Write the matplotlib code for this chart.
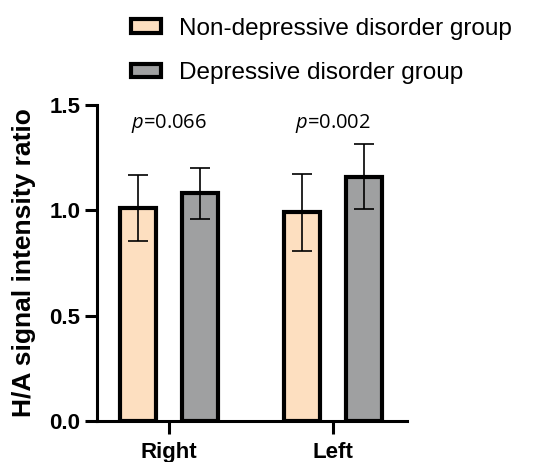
import matplotlib
matplotlib.use("Agg")
import matplotlib.pyplot as plt
from matplotlib.patches import Patch
import numpy as np

# Data
sides = ["Right", "Left"]
groups = ["Non-depressive disorder group", "Depressive disorder group"]
means_nondep = [1.01, 0.99]
means_dep = [1.08, 1.16]
sd_nondep = [0.157, 0.183]
sd_dep = [0.12, 0.155]
p_labels = ["0.066", "0.002"]
yticks = [0.0, 0.5, 1.0, 1.5]

colors = ["#FDDFC0", "#9FA0A1"]

plt.rcParams["font.family"] = ["Liberation Sans", "DejaVu Sans"]
plt.rcParams["mathtext.fontset"] = "custom"
plt.rcParams["mathtext.it"] = "Open Sans:italic"
plt.rcParams["mathtext.rm"] = "Open Sans"

fig = plt.figure(figsize=(5.35, 4.62), dpi=100)
ax = fig.add_axes([0.1813, 0.0887, 0.5794, 0.684])

x = np.arange(len(sides))
offset = 0.189
width = 0.215
lw = 3.0

for i, (means, sds) in enumerate([(means_nondep, sd_nondep), (means_dep, sd_dep)]):
    xs = x + (-offset if i == 0 else offset)
    ax.bar(xs, means, width=width, color=colors[i], edgecolor="black",
           linewidth=lw, zorder=2)
    ax.errorbar(xs, means, yerr=sds, fmt="none", ecolor="black",
                elinewidth=1.2, capsize=7.5, capthick=1.2, zorder=3)

for xi, p in zip(x, p_labels):
    ax.text(xi, 1.41, r"$\mathit{p}$=" + p, ha="center", va="center",
            fontsize=14.5, family="Open Sans")

ax.set_xlim(-0.439, 1.451)
ax.set_ylim(0, 1.5)
ax.set_yticks(yticks)
ax.set_yticklabels([f"{v:.1f}" for v in yticks])
ax.set_xticks(x)
ax.set_xticklabels(sides)

for s in ["top", "right"]:
    ax.spines[s].set_visible(False)
for s in ["left", "bottom"]:
    ax.spines[s].set_linewidth(2.2)

ax.tick_params(axis="both", which="major", width=2.2, length=8.6,
               labelsize=16, pad=3.5)
ax.tick_params(axis="x", length=9.5, pad=5.5)
for lab in ax.get_xticklabels() + ax.get_yticklabels():
    lab.set_fontweight("bold")

ax.set_ylabel("H/A signal intensity ratio", fontsize=19, fontweight="bold")
ax.yaxis.set_label_coords(-0.197, 0.5)

handles = [Patch(facecolor=c, edgecolor="black", linewidth=3.0) for c in colors]
fig.legend(handles, groups, loc="upper left", bbox_to_anchor=(0.236, 0.972),
           frameon=False, fontsize=17.5, handlelength=1.23, handleheight=0.5,
           handletextpad=0.75, labelspacing=0.92, borderpad=0.2,
           borderaxespad=0.0)

fig.savefig("out.png", dpi=100)
